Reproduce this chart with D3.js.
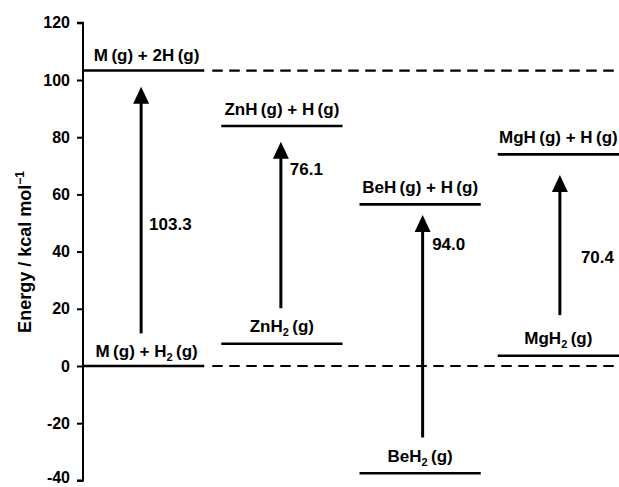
<!DOCTYPE html>
<html>
<head>
<meta charset="utf-8">
<script src="https://cdn.jsdelivr.net/npm/d3@7"></script>
<style>
  html, body { margin: 0; padding: 0; background: #fff; }
  svg { display: block; font-family: "Liberation Sans", Arial, sans-serif; }
</style>
</head>
<body>
<svg id="chart" width="619" height="487"></svg>
<script>
// ---- data ----
const columns = ["M", "Zn", "Be", "Mg"];
const lowerLevels = [0, 7.8, -37.5, 3.6];
const upperLevels = [103.3, 83.9, 56.5, 74.0];
const lowerLabels = ["M\u2009(g) + H_2\u2009(g)", "ZnH_2\u2009(g)", "BeH_2\u2009(g)", "MgH_2\u2009(g)"];
const upperLabels = ["M\u2009(g) + 2H\u2009(g)", "ZnH\u2009(g) + H\u2009(g)", "BeH\u2009(g) + H\u2009(g)", "MgH\u2009(g) + H\u2009(g)"];
const energies = ["103.3", "76.1", "94.0", "70.4"];
const arrowFrom = [11.4, 20.2, -25.0, 17.8];
const arrowTo = [97.6, 78.4, 52.8, 66.8];
const energyLabelAt = [49.7, 68.8, 42.7, 38.1];
const referenceLevels = [103.3, 0];
const yTicks = [-40, -20, 0, 20, 40, 60, 80, 100, 120];
const yTitle = "Energy / kcal mol";

// ---- layout ----
const svg = d3.select("#chart");
const axisX = 83;
const y = d3.scaleLinear().domain([-40, 120]).range([480.4, 22.8]);
const x = d3.scaleBand().domain(columns).range([axisX, 619]).paddingInner(0.123).paddingOuter(0);

// y axis
const yAxis = d3.axisLeft(y).tickValues(yTicks).tickSize(6).tickPadding(7).tickFormat(d => String(d));
const gAxis = svg.append("g").attr("transform", `translate(${axisX},0)`).call(yAxis);
gAxis.select(".domain").attr("stroke", "#000").attr("stroke-width", 2).attr("d", `M-6,${y(120)}H0V${y(-40)}H-6`);
gAxis.selectAll(".tick line").attr("stroke", "#000").attr("stroke-width", 2);
gAxis.selectAll(".tick text").attr("fill", "#000").attr("font-size", 16).attr("font-weight", "bold")
  .attr("font-family", "Liberation Sans, Arial, sans-serif")
  .attr("dy", d => d === -40 ? "0.12em" : "0.32em");

// y title
const title = svg.append("text")
  .attr("transform", `translate(31,${252}) rotate(-90)`)
  .attr("text-anchor", "middle")
  .attr("font-size", 18).attr("font-weight", "bold").attr("fill", "#000");
title.append("tspan").text(yTitle);
title.append("tspan").attr("font-size", 12).attr("dy", -7).text("\u22121");

// dashed reference lines
const dashStart = x(columns[0]) + x.bandwidth() + 8;
svg.selectAll("line.ref").data(referenceLevels).enter().append("line")
  .attr("class", "ref")
  .attr("x1", dashStart).attr("x2", 619)
  .attr("y1", d => y(d)).attr("y2", d => y(d))
  .attr("stroke", "#000").attr("stroke-width", 2.2).attr("stroke-dasharray", "10.5,6.5");

// level lines
function levels(vals, cls) {
  svg.selectAll("line." + cls).data(vals).enter().append("line")
    .attr("class", cls)
    .attr("x1", (d, i) => x(columns[i]))
    .attr("x2", (d, i) => x(columns[i]) + x.bandwidth())
    .attr("y1", d => y(d)).attr("y2", d => y(d))
    .attr("stroke", "#000").attr("stroke-width", 2.6);
}
levels(lowerLevels, "low");
levels(upperLevels, "up");

// labels with subscripts
function richText(sel, str) {
  const parts = str.split(/_(\d)/);
  parts.forEach((p, k) => {
    if (k % 2 === 1) {
      sel.append("tspan").attr("font-size", 11).attr("dy", 4).text(p);
    } else if (p.length) {
      const t = sel.append("tspan").text(p);
      if (k > 0) t.attr("dy", -4);
    }
  });
}
const gapAbove = [8, 11.5, 11.5, 11.5];
function levelLabels(vals, labels, cls) {
  vals.forEach((v, i) => {
    const t = svg.append("text").attr("class", cls)
      .attr("x", x(columns[i]) + x.bandwidth() / 2 + (i === 0 ? 3 : 0))
      .attr("y", y(v) - (i === 0 && cls === "up" ? 7 : (i === 0 ? 9.5 : gapAbove[i])))
      .attr("text-anchor", "middle")
      .attr("font-size", 17).attr("font-weight", "bold").attr("fill", "#000");
    richText(t, labels[i]);
  });
}
levelLabels(lowerLevels, lowerLabels, "lowlab");
levelLabels(upperLevels, upperLabels, "uplab");

// arrows
const arrowDx = [-2.5, -1, 2.5, 1.5];
const headH = 17, headW = 8;
columns.forEach((c, i) => {
  const ax = x(c) + x.bandwidth() / 2 + arrowDx[i];
  const yTip = y(arrowTo[i]);
  svg.append("line")
    .attr("x1", ax).attr("x2", ax)
    .attr("y1", y(arrowFrom[i])).attr("y2", yTip + headH - 2)
    .attr("stroke", "#000").attr("stroke-width", 3);
  svg.append("path")
    .attr("d", `M${ax},${yTip}L${ax + headW},${yTip + headH}L${ax - headW},${yTip + headH}Z`)
    .attr("fill", "#000");
});

// energy labels
const labelDx = [8, 9, 9.5, 21];
energies.forEach((e, i) => {
  const ax = x(columns[i]) + x.bandwidth() / 2 + arrowDx[i];
  svg.append("text")
    .attr("x", ax + labelDx[i])
    .attr("y", y(energyLabelAt[i]) + 6)
    .attr("font-size", 17).attr("font-weight", "bold").attr("fill", "#000")
    .text(e);
});
</script>
</body>
</html>
